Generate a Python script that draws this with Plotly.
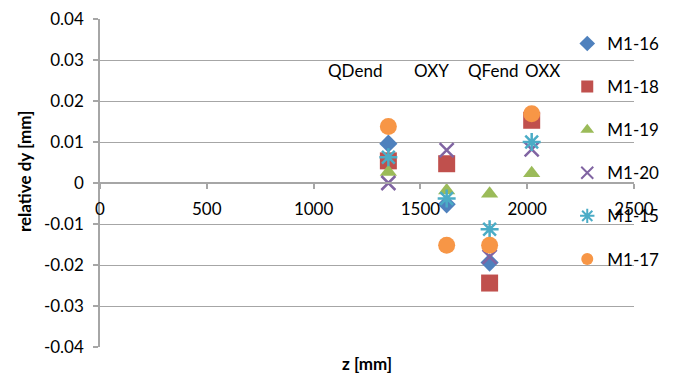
import plotly.graph_objects as go

# Longitudinal positions of the four measurement stations [mm]
stations = ["QDend", "OXY", "QFend", "OXX"]
z_pos = [1350, 1623, 1824, 2021]

# Relative vertical offset per magnet at each station [mm]
series_names = ["M1-16", "M1-18", "M1-19", "M1-20", "M1-15", "M1-17"]
dy_m1_16 = [0.0096, -0.0052, -0.0194, None]
dy_m1_18 = [0.0054, 0.0047, -0.0244, 0.0153]
dy_m1_19 = [0.0027, -0.0018, -0.0026, 0.0024]
dy_m1_20 = [0.0000, 0.0080, -0.0180, 0.0082]
dy_m1_15 = [0.0063, -0.0038, -0.0113, 0.0100]
dy_m1_17 = [0.0138, -0.0152, -0.0152, 0.0169]

# Axis ticks
x_ticks = [0, 500, 1000, 1500, 2000, 2500]
y_ticks = [-0.04, -0.03, -0.02, -0.01, 0, 0.01, 0.02, 0.03, 0.04]
y_tick_text = ["-0.04", "-0.03", "-0.02", "-0.01", "0", "0.01", "0.02", "0.03", "0.04"]

# Station label placement along z
station_label_z = [1195, 1553, 1840, 2072]
station_label_y = 0.0275

FONT = "Lato, 'Open Sans', sans-serif"
GRID = "#A6A6A6"

styles = {
    "M1-16": dict(symbol="diamond", size=14, color="#4F81BD"),
    "M1-18": dict(symbol="square", size=17, color="#C0504D"),
    "M1-19": dict(symbol="triangle-up", size=15, color="#9BBB59"),
    "M1-20": dict(symbol="x-thin", size=14, color="#8064A2", line=dict(width=2.5, color="#8064A2")),
    "M1-15": dict(symbol="asterisk", size=15, color="#4BACC6", line=dict(width=2.5, color="#4BACC6")),
    "M1-17": dict(symbol="circle", size=17, color="#F79646"),
}
values = [dy_m1_16, dy_m1_18, dy_m1_19, dy_m1_20, dy_m1_15, dy_m1_17]

fig = go.Figure()
for name, ys in zip(series_names, values):
    st = styles[name]
    marker = dict(symbol=st["symbol"], size=st["size"], color=st["color"])
    if "line" in st:
        marker["line"] = st["line"]
    else:
        marker["line"] = dict(width=0)
    fig.add_trace(go.Scatter(
        x=z_pos, y=ys, mode="markers", name=name, marker=marker,
        legendgroup=name,
    ))

for label, zx in zip(stations, station_label_z):
    fig.add_annotation(x=zx, y=station_label_y, xref="x", yref="y", text=label,
                       showarrow=False, font=dict(family=FONT, size=17, color="#000000"))

fig.add_annotation(x=0.5, y=-0.049, xref="paper", yref="paper", text="<b>z [mm]</b>",
                   showarrow=False, yanchor="middle",
                   font=dict(family=FONT, size=17, color="#000000"))
fig.add_annotation(x=-0.14, y=0.534, xref="paper", yref="paper", text="<b>relative dy [mm]</b>",
                   showarrow=False, textangle=-90, xanchor="center", yanchor="middle",
                   font=dict(family=FONT, size=17, color="#000000"))

fig.update_layout(
    width=674, height=376,
    margin=dict(l=100, r=40, t=19, b=29, autoexpand=False),
    paper_bgcolor="white", plot_bgcolor="white",
    font=dict(family=FONT, size=17, color="#000000"),
    showlegend=True,
    legend=dict(
        x=0.875, xanchor="left", y=0.979, yanchor="top",
        bgcolor="rgba(0,0,0,0)", traceorder="grouped", tracegroupgap=18,
        font=dict(family=FONT, size=17, color="#000000"),
        itemsizing="constant",
    ),
    xaxis=dict(
        range=[0, 2500], tickvals=x_ticks, anchor="free", position=0.5,
        showline=True, linecolor=GRID, linewidth=1.5,
        ticks="outside", ticklen=5, tickcolor=GRID, tickwidth=1.5,
        showgrid=False, zeroline=False, ticklabelstandoff=6,
        tickfont=dict(family=FONT, size=17, color="#000000"),
    ),
    yaxis=dict(
        range=[-0.04, 0.04], tickvals=y_ticks, ticktext=y_tick_text,
        showline=True, linecolor=GRID, linewidth=1.5,
        ticks="outside", ticklen=5, tickcolor=GRID, tickwidth=1.5,
        showgrid=True, gridcolor=GRID, gridwidth=1.3, zeroline=False,
        ticklabelstandoff=6,
        tickfont=dict(family=FONT, size=17, color="#000000"),
    ),
)

fig.write_html("out.html")
